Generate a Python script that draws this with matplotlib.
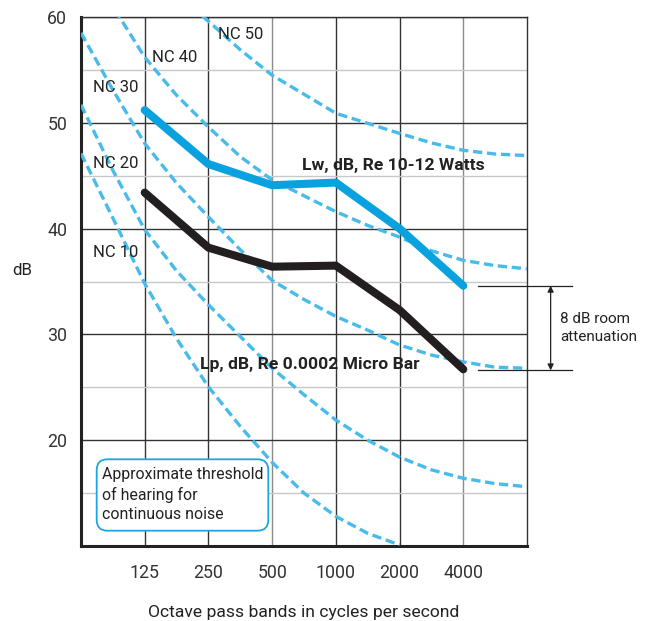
import matplotlib
matplotlib.use("Agg")
import matplotlib.pyplot as plt
from matplotlib.patches import FancyBboxPatch
from matplotlib.ticker import NullLocator

plt.rcParams['font.family'] = ['Roboto', 'DejaVu Sans']

# ---- data ----
bands = ['125', '250', '500', '1000', '2000', '4000']
band_hz = [125, 250, 500, 1000, 2000, 4000]
lw_db = [51.2, 46.1, 44.1, 44.35, 40.0, 34.6]
lp_db = [43.4, 38.2, 36.4, 36.5, 32.3, 26.7]

nc_hz = [62.5, 88.4, 125, 176.8, 250, 353.6, 500, 707.1, 1000, 1414.2, 2000,
         2828.4, 4000, 5656.9, 8000]
nc50 = [71.0, 67.5, 64.5, 62.0, 59.6, 56.9, 54.5, 52.7, 50.9, 49.95, 49.0,
        48.1, 47.4, 47.05, 46.9]
nc40 = [64.5, 61.0, 56.2, 52.6, 49.6, 46.8, 44.6, 43.1, 41.6, 40.3, 39.2,
        37.9, 37.0, 36.5, 36.2]
nc30 = [58.5, 53.1, 48.05, 44.3, 41.1, 38.0, 35.1, 33.3, 31.7, 30.4, 29.0,
        28.05, 27.4, 26.9, 26.8]
nc20 = [51.7, 45.5, 39.9, 36.0, 32.8, 29.8, 26.8, 24.3, 21.9, 20.0, 18.4,
        17.2, 16.4, 15.9, 15.6]
nc10 = [47.1, 41.0, 34.8, 29.6, 25.05, 21.3, 17.9, 15.0, 12.8, 11.2, 10.1,
        None, None, None, None]
nc_curves = [nc50, nc40, nc30, nc20, nc10]
nc_names = ['NC 50', 'NC 40', 'NC 30', 'NC 20', 'NC 10']
nc_label_pos = [(278, 58.3), (135, 56.2), (71, 53.3), (71, 46.2), (71, 37.7)]

y_major = [20, 30, 40, 50, 60]
y_minor = [15, 25, 35, 45, 55]
room_attenuation = 8

BLUE = '#0aa2de'
DASH = '#47bbea'
DARK = '#231f20'

fig = plt.figure(figsize=(6.55, 6.21), dpi=100)
ax = fig.add_axes([81 / 655, 1 - 546 / 621, 446 / 655, 529 / 621])

ax.set_xscale('log', base=2)
ax.set_xlim(62.5, 8000)
ax.set_ylim(10, 60)
ax.set_xticks(band_hz)
ax.set_xticklabels(bands)
ax.xaxis.set_minor_locator(NullLocator())
ax.set_yticks(y_major)
ax.set_yticks(y_minor, minor=True)
ax.tick_params(axis='both', which='both', length=0, labelsize=12.8,
               labelcolor='#333333')
ax.tick_params(axis='y', pad=10)
ax.tick_params(axis='x', pad=13)

ax.grid(True, which='major', axis='both', color='#333333', lw=1.0)
ax.grid(True, which='minor', axis='y', color='#c8c8c8', lw=1.0)
for f, gl in zip(band_hz, ax.xaxis.get_gridlines()):
    if f in (500, 4000):
        gl.set_color('#8a8a8a')
ax.set_axisbelow(True)

for side in ('left', 'bottom'):
    ax.spines[side].set_linewidth(2.2)
    ax.spines[side].set_color('#222222')
for side in ('top', 'right'):
    ax.spines[side].set_linewidth(1.0)
    ax.spines[side].set_color('#333333')

# NC curves
for vals in nc_curves:
    xs = [f for f, v in zip(nc_hz, vals) if v is not None]
    ys = [v for v in vals if v is not None]
    ax.plot(xs, ys, color=DASH, lw=2.4, ls=(0, (2.8, 1.4)),
            dash_capstyle='butt', zorder=3)

for name, (x, y) in zip(nc_names, nc_label_pos):
    ax.text(x, y, name, fontsize=12, color='#222222', ha='left', va='center',
            zorder=4)

# main lines
ax.plot(band_hz, lw_db, color=BLUE, lw=5.8, solid_capstyle='round',
        solid_joinstyle='miter', zorder=5)
ax.plot(band_hz, lp_db, color=DARK, lw=5.8, solid_capstyle='round',
        solid_joinstyle='miter', zorder=5)

ax.text(695, 46.0, 'Lw, dB, Re 10-12 Watts', fontsize=12.6, fontweight='bold',
        color='#222222', ha='left', va='center', zorder=6)
ax.text(228, 27.2, 'Lp, dB, Re 0.0002 Micro Bar', fontsize=12.6,
        fontweight='bold', color='#222222', ha='left', va='center', zorder=6)

# threshold box
box = FancyBboxPatch((15.7 / 446, 15.3 / 529), 171.6 / 446, 71.4 / 529,
                     boxstyle='round,pad=0,rounding_size=0.024',
                     mutation_aspect=446 / 529, transform=ax.transAxes,
                     fc='white', ec='#1aa7e1', lw=1.3, zorder=6)
ax.add_patch(box)
ax.text(20.7 / 446, 78.5 / 529,
        'Approximate threshold\nof hearing for\ncontinuous noise',
        transform=ax.transAxes, fontsize=11.4, color='#222222', ha='left',
        va='top', linespacing=1.32, zorder=7)

# room attenuation annotation
trans = ax.get_yaxis_transform()
top_db = lw_db[-1]
bot_db = lw_db[-1] - room_attenuation
for yv in (top_db, bot_db):
    ax.plot([0.8895, 1.100], [yv, yv], transform=trans, clip_on=False,
            color='#222222', lw=0.9, zorder=4)
ax.annotate('', xy=(1.053, bot_db), xytext=(1.053, top_db),
            xycoords=trans, textcoords=trans,
            arrowprops=dict(arrowstyle='<|-|>', color='#222222', lw=0.9,
                            mutation_scale=9, shrinkA=0, shrinkB=0))
ax.text(1.074, (top_db + bot_db) / 2, '8 dB room\nattenuation',
        transform=trans, fontsize=11, color='#222222', ha='left',
        va='center', linespacing=1.4)

fig.text(22 / 655, 1 - 271 / 621, 'dB', fontsize=12.2, color='#222222',
         ha='center', va='center')
fig.text(304 / 655, 1 - 612 / 621, 'Octave pass bands in cycles per second',
         fontsize=12.6, color='#222222', ha='center', va='center')

fig.savefig('out.png', dpi=100)
